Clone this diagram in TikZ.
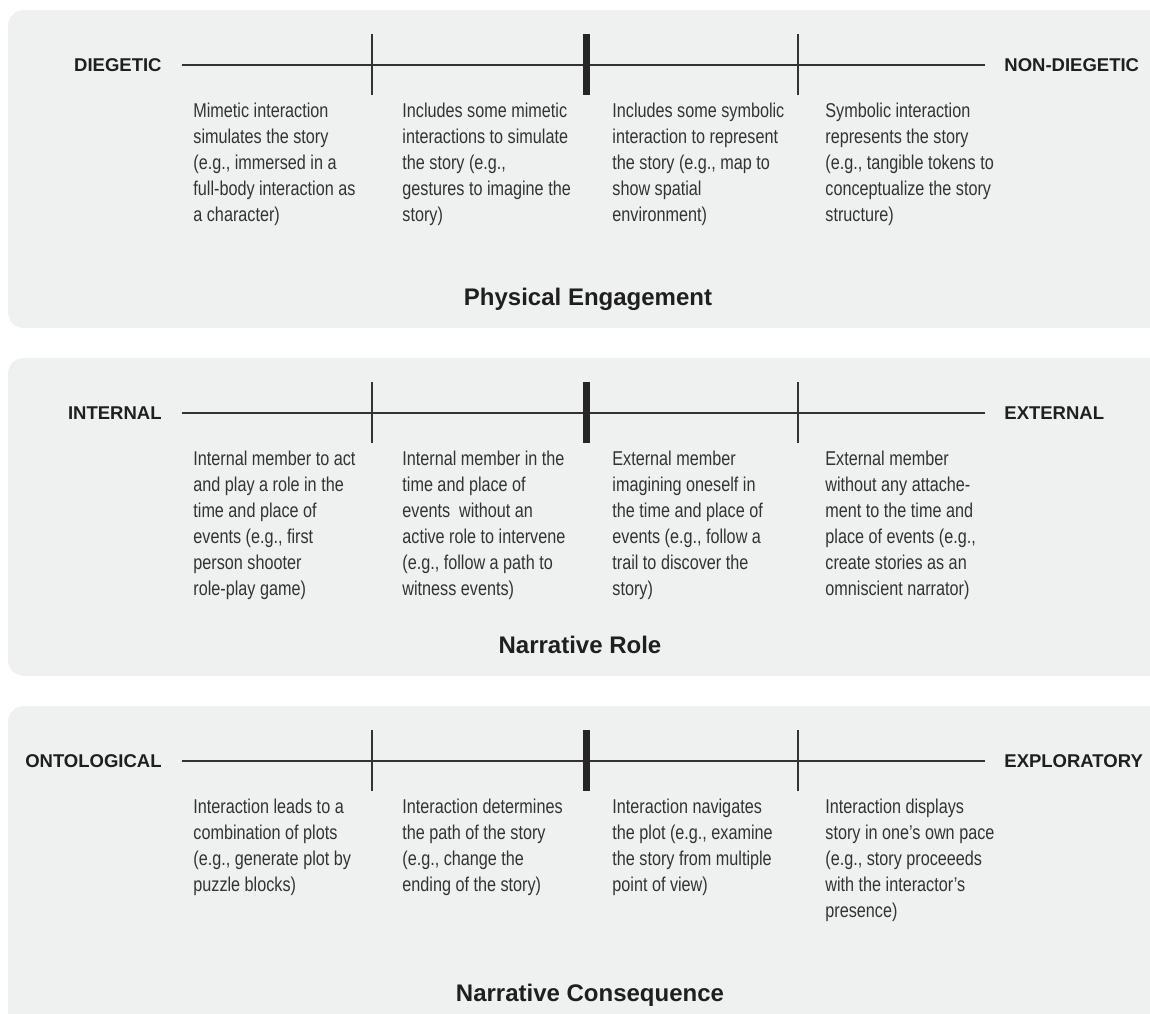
\documentclass[tikz,border=0pt]{standalone}
\usepackage{fontspec}
\setmainfont{Liberation Sans}
\newfontfamily\condfont[FakeStretch=0.81]{Liberation Sans}
\definecolor{panelgray}{HTML}{EFF0F0}
\definecolor{inkgray}{HTML}{333333}
\tikzset{
  panel/.style={fill=panelgray, rounded corners=8pt},
  pole/.style={font=\bfseries\fontsize{9.25}{11}\selectfont, text=black!88, inner sep=0pt},
  desc/.style={font=\condfont\fontsize{10}{13}\selectfont, text=inkgray, align=left, inner sep=0pt, anchor=north west, execute at begin node=\strut},
  heading/.style={font=\bfseries\fontsize{12}{14}\selectfont, text=black!88, inner sep=0pt, anchor=base},
  axis/.style={draw=inkgray, line width=0.75pt},
  thintick/.style={draw=inkgray, line width=1pt},
  thicktick/.style={draw=black!85, line width=3.5pt},
}
\begin{document}
\begin{tikzpicture}[x=0.5pt,y=-0.5pt]
\useasboundingbox (0,0) rectangle (1150,1013);
\fill[white] (0,0) rectangle (1150,1013);
% physical engagement
\begin{scope}
\fill[panel] (8,10) rectangle (1180,328);
\node[pole,anchor=east] (diegetic) at (162,65) {DIEGETIC};
\node[pole,anchor=west] (nondiegetic) at (1004,65) {NON-DIEGETIC};
\coordinate (pe-l) at (182,65);
\coordinate (pe-r) at (985,65);
\draw[axis] (pe-l) -- (pe-r);
\foreach \x in {372,798} \draw[thintick] (\x,34) -- (\x,95);
\draw[thicktick] (586,34) -- (586,95);
\node[desc] (pe1) at (193,102.3) {Mimetic interaction\\simulates the story\\(e.g., immersed in a\\full-body interaction as\\a character)};
\node[desc] (pe2) at (402,102.3) {Includes some mimetic\\interactions to simulate\\the story (e.g.,\\gestures to imagine the\\story)};
\node[desc] (pe3) at (612,102.3) {Includes some symbolic\\interaction to represent\\the story (e.g., map to\\show spatial\\environment)};
\node[desc] (pe4) at (825,102.3) {Symbolic interaction\\represents the story\\(e.g., tangible tokens to\\conceptualize the story\\structure)};
\node[heading] (pe) at (588,305) {Physical Engagement};
\end{scope}
% narrative role
\begin{scope}[shift={(0,348)}]
\fill[panel] (8,10) rectangle (1180,328);
\node[pole,anchor=east] (internal) at (162,65) {INTERNAL};
\node[pole,anchor=west] (external) at (1004,65) {EXTERNAL};
\coordinate (nr-l) at (182,65);
\coordinate (nr-r) at (985,65);
\draw[axis] (nr-l) -- (nr-r);
\foreach \x in {372,798} \draw[thintick] (\x,34) -- (\x,95);
\draw[thicktick] (586,34) -- (586,95);
\node[desc] (nr1) at (193,102.3) {Internal member to act\\and play a role in the\\time and place of\\events (e.g., first\\person shooter\\role-play game)};
\node[desc] (nr2) at (402,102.3) {Internal member in the\\time and place of\\events\ \ without an\\active role to intervene\\(e.g., follow a path to\\witness events)};
\node[desc] (nr3) at (612,102.3) {External member\\imagining oneself in\\the time and place of\\events (e.g., follow a\\trail to discover the\\story)};
\node[desc] (nr4) at (825,102.3) {External member\\without any attache-\\ment to the time and\\place of events (e.g.,\\create stories as an\\omniscient narrator)};
\node[heading] (nr) at (580,305) {Narrative Role};
\end{scope}
% narrative consequence
\begin{scope}[shift={(0,696)}]
\fill[panel] (8,10) rectangle (1180,360);
\node[pole,anchor=east] (ontological) at (162,65) {ONTOLOGICAL};
\node[pole,anchor=west] (exploratory) at (1004,65) {EXPLORATORY};
\coordinate (nc-l) at (182,65);
\coordinate (nc-r) at (985,65);
\draw[axis] (nc-l) -- (nc-r);
\foreach \x in {372,798} \draw[thintick] (\x,34) -- (\x,95);
\draw[thicktick] (586,34) -- (586,95);
\node[desc] (nc1) at (193,102.3) {Interaction leads to a\\combination of plots\\(e.g., generate plot by\\puzzle blocks)};
\node[desc] (nc2) at (402,102.3) {Interaction determines\\the path of the story\\(e.g., change the\\ending of the story)};
\node[desc] (nc3) at (612,102.3) {Interaction navigates\\the plot (e.g., examine\\the story from multiple\\point of view)};
\node[desc] (nc4) at (825,102.3) {Interaction displays\\story in one’s own pace\\(e.g., story proceeeds\\with the interactor’s\\presence)};
\node[heading] (nc) at (590,305) {Narrative Consequence};
\end{scope}
\end{tikzpicture}
\end{document}
